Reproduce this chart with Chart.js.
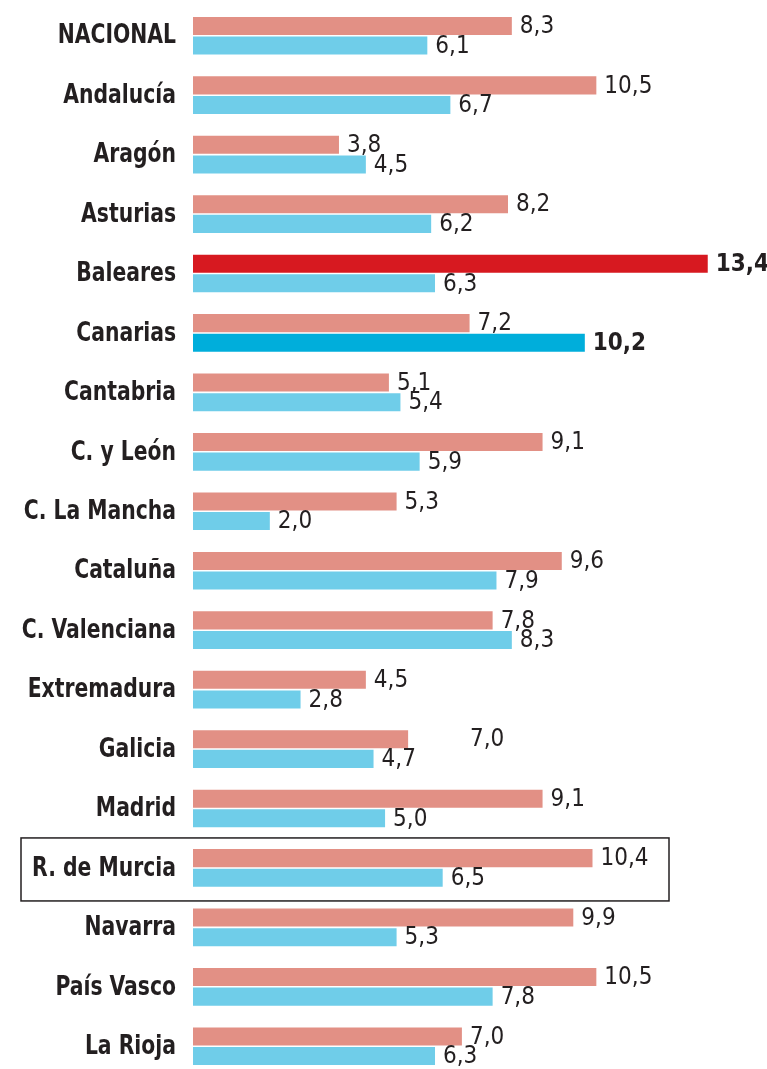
<!DOCTYPE html>
<html>
<head>
<meta charset="utf-8">
<script src="https://cdn.jsdelivr.net/npm/chart.js@4"></script>
<style>
  html, body { margin: 0; padding: 0; background: #fff; overflow: hidden; }
  #wrap { position: relative; width: 767px; height: 1077px; }
</style>
</head>
<body>
<div id="wrap"><canvas id="myChart"></canvas></div>
<script>
const regions = ["NACIONAL", "Andalucía", "Aragón", "Asturias", "Baleares", "Canarias",
  "Cantabria", "C. y León", "C. La Mancha", "Cataluña", "C. Valenciana", "Extremadura",
  "Galicia", "Madrid", "R. de Murcia", "Navarra", "País Vasco", "La Rioja"];
// pink bars as drawn (Galicia bar is drawn shorter than its printed 7,0)
const pinkBars = [8.3, 10.5, 3.8, 8.2, 13.4, 7.2, 5.1, 9.1, 5.3, 9.6, 7.8, 4.5, 5.6, 9.1, 10.4, 9.9, 10.5, 7.0];
const pinkPrinted = [8.3, 10.5, 3.8, 8.2, 13.4, 7.2, 5.1, 9.1, 5.3, 9.6, 7.8, 4.5, 7.0, 9.1, 10.4, 9.9, 10.5, 7.0];
const blueBars = [6.1, 6.7, 4.5, 6.2, 6.3, 10.2, 5.4, 5.9, 2.0, 7.9, 8.3, 2.8, 4.7, 5.0, 6.5, 5.3, 7.8, 6.3];
const pinkHighlight = "Baleares";
const blueHighlight = "Canarias";
const boxed = "R. de Murcia";

const PINK = "#e29085", BLUE = "#6fcde9", RED = "#d71920", DEEPBLUE = "#00aedb", INK = "#231f20";
const FONT = "'Liberation Sans Narrow', 'DejaVu Sans Condensed', sans-serif";

function fmt(v) { return v.toFixed(1).replace(".", ","); }

const textLayer = {
  id: "textLayer",
  afterDatasetsDraw(chart) {
    const c = chart.ctx;
    const x = chart.scales.x;
    const yScale = chart.scales.y;
    c.save();
    c.fillStyle = INK;
    c.textBaseline = "middle";

    // value labels
    c.textAlign = "left";
    chart.data.datasets.forEach((ds, di) => {
      chart.getDatasetMeta(di).data.forEach((bar, i) => {
        const printed = di === 0 ? pinkPrinted[i] : blueBars[i];
        const strong = (di === 0 && regions[i] === pinkHighlight) || (di === 1 && regions[i] === blueHighlight);
        c.font = (strong ? "bold " : "") + "24px " + FONT;
        c.fillText(fmt(printed), x.getPixelForValue(printed) + 8, bar.y + 1);
      });
    });

    // region names, condensed a bit more
    c.textAlign = "right";
    c.font = "bold 26px " + FONT;
    regions.forEach((r, i) => {
      c.save();
      c.translate(x.left - 17, yScale.getPixelForValue(i) + 1);
      c.scale(0.87, 1);
      c.fillText(r, 0, 0);
      c.restore();
    });

    // box round the highlighted region
    const y = yScale.getPixelForValue(regions.indexOf(boxed));
    c.strokeStyle = INK;
    c.lineWidth = 1.5;
    c.strokeRect(21, y - 30, 648, 63);
    c.restore();
  }
};

new Chart(document.getElementById("myChart"), {
  type: "bar",
  data: {
    labels: regions,
    datasets: [
      {
        data: pinkBars,
        backgroundColor: regions.map(r => r === pinkHighlight ? RED : PINK),
        barPercentage: 0.92,
        categoryPercentage: 0.66,
      },
      {
        data: blueBars,
        backgroundColor: regions.map(r => r === blueHighlight ? DEEPBLUE : BLUE),
        barPercentage: 0.92,
        categoryPercentage: 0.66,
      },
    ],
  },
  options: {
    indexAxis: "y",
    responsive: true,
    maintainAspectRatio: false,
    animation: false,
    layout: { padding: { top: 6, bottom: 1, right: 17, left: 0 } },
    plugins: { legend: { display: false }, tooltip: { enabled: false } },
    scales: {
      x: { display: false, min: 0, max: 14.5 },
      y: {
        grid: { display: false, drawTicks: false },
        border: { display: false },
        ticks: { display: false },
        afterFit(scale) { scale.width = 193; },
      },
    },
  },
  plugins: [textLayer],
});
</script>
</body>
</html>
